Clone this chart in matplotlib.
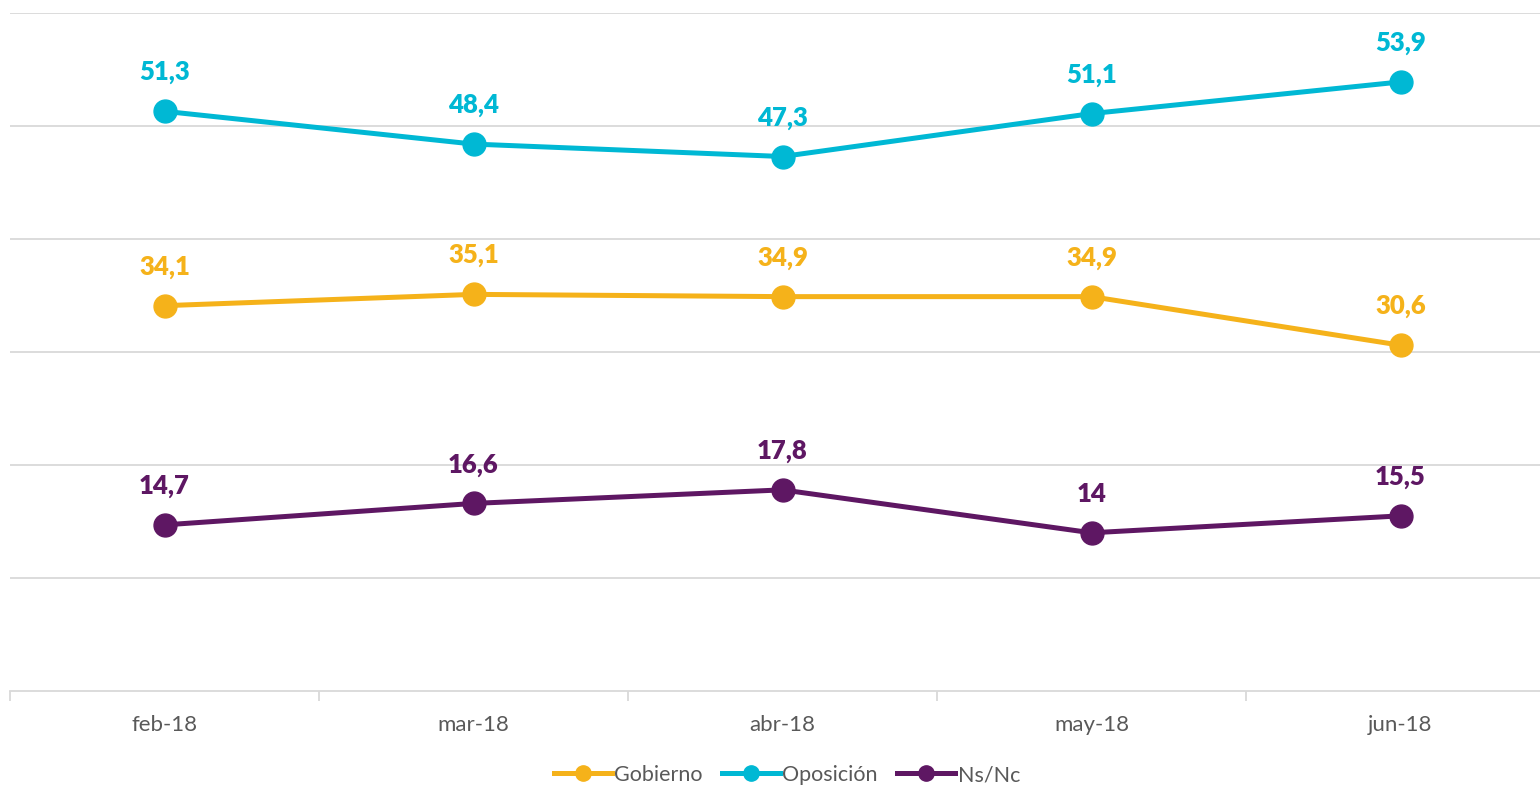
import matplotlib
matplotlib.use("Agg")
import matplotlib.pyplot as plt
from matplotlib.lines import Line2D

plt.rcParams['font.family'] = ['Lato', 'DejaVu Sans']

categories = ["feb-18", "mar-18", "abr-18", "may-18", "jun-18"]
gobierno = [34.1, 35.1, 34.9, 34.9, 30.6]
oposicion = [51.3, 48.4, 47.3, 51.1, 53.9]
nsnc = [14.7, 16.6, 17.8, 14.0, 15.5]
series_names = ["Gobierno", "Oposición", "Ns/Nc"]
colors = ["#F5B21A", "#00B8D4", "#5E1763"]

fig = plt.figure(figsize=(15.4, 7.87), dpi=100)
ax = fig.add_axes([10/1540, 96/787, 1 - 10/1540, (691-13)/787])

x = list(range(len(categories)))
for vals, name, c in zip([gobierno, oposicion, nsnc], series_names, colors):
    ax.plot(x, vals, color=c, lw=3.6, marker='o', ms=16.5, solid_capstyle='round', zorder=3)
    for xi, v in zip(x, vals):
        lab = f"{v:g}".replace('.', ',')
        ax.annotate(lab, (xi, v), xytext=(0, 28), textcoords='offset points',
                    ha='center', va='center', color=c, fontsize=18.5, fontweight='heavy')

ax.set_xlim(-0.5, -0.5 + 1530/309)
ax.set_ylim(0, 60)
ax.set_yticks([10, 20, 30, 40, 50, 60])
ax.yaxis.grid(True, color='#D9D9D9', lw=1.3)
ax.tick_params(axis='y', length=0, labelleft=False)
ax.set_axisbelow(True)
for s in ['top', 'right', 'left']:
    ax.spines[s].set_visible(False)
ax.spines['bottom'].set_color('#D9D9D9')
ax.spines['bottom'].set_linewidth(1.3)
ax.set_xticks([i - 0.5 for i in range(5)], minor=False)
ax.set_xticklabels([])
ax.tick_params(axis='x', which='major', length=7, color='#D9D9D9', width=1.3)
ax.set_xticks(x, minor=True)
ax.set_xticklabels(categories, minor=True)
ax.tick_params(axis='x', which='minor', length=0, labelsize=16, labelcolor='#595959', pad=17)

handles = [Line2D([0], [0], color=c, lw=3.6, marker='o', ms=11) for c in colors]
fig.legend(handles, series_names, loc='center', bbox_to_anchor=(787/1540, 1 - 775/787),
           ncol=3, frameon=False, fontsize=15.5, labelcolor='#595959',
           handlelength=2.7, handletextpad=0.1, columnspacing=0.9)

fig.savefig("out.png", dpi=100)
